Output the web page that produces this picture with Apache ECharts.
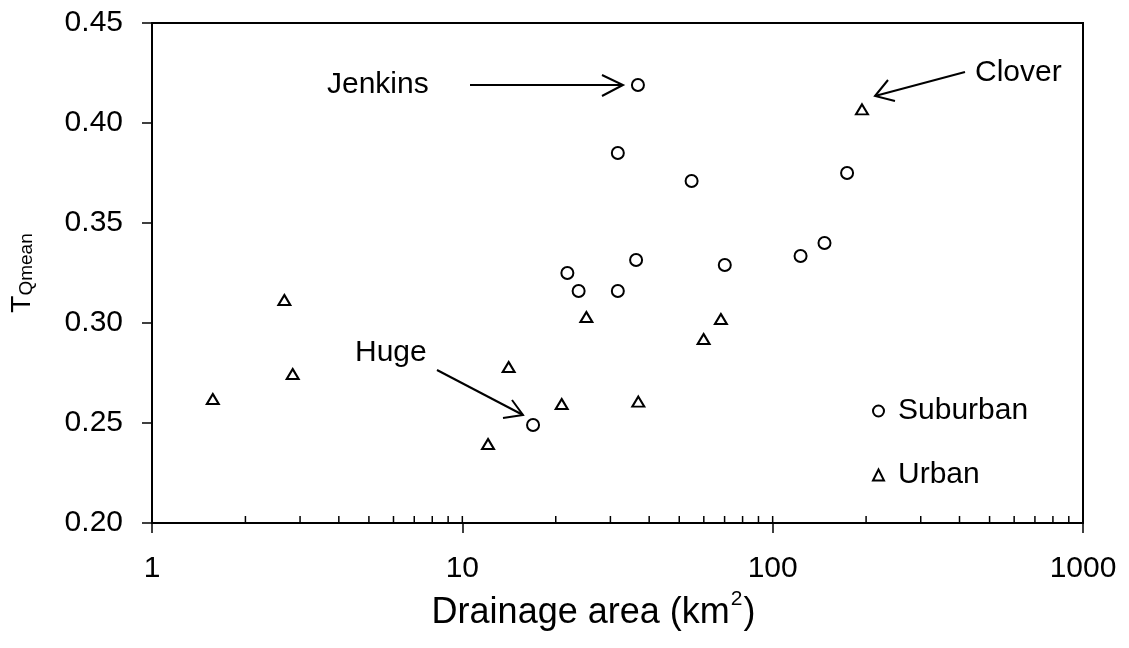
<!DOCTYPE html>
<html>
<head>
<meta charset="utf-8">
<script src="https://cdn.jsdelivr.net/npm/echarts@6/dist/echarts.min.js"></script>
<style>
html,body{margin:0;padding:0;background:#fff;}
#chart{width:1129px;height:648px;}
</style>
</head>
<body>
<div id="chart"></div>
<script>
// ---- data ----
var suburbanArea = [36.8, 31.7, 54.8, 173.7, 146.9, 123, 21.8, 23.7, 31.7, 36.3, 70.1, 16.9];
var suburbanT    = [0.419, 0.385, 0.371, 0.375, 0.340, 0.3335, 0.325, 0.316, 0.316, 0.3315, 0.329, 0.249];
var urbanArea = [1.57, 2.67, 2.84, 14.1, 12.1, 25.1, 68.1, 59.9, 36.9, 194, 20.9];
var urbanT    = [0.262, 0.3115, 0.2745, 0.278, 0.2395, 0.303, 0.302, 0.292, 0.2607, 0.4068, 0.2595];
var yTicks = [0.20, 0.25, 0.30, 0.35, 0.40, 0.45];
var xTickLabels = ['1', '10', '100', '1000'];
var minorTickValues = [2,3,4,5,6,7,8,9,10,20,30,40,50,60,70,80,90,100,200,300,400,500,600,700,800,900];

function pairs(xs, ys){ return xs.map(function(x,i){ return [x, ys[i]]; }); }

var FONT = 'Liberation Sans, Arial, sans-serif';
var chart = echarts.init(document.getElementById('chart'), null, {renderer:'canvas'});

var option = {
  backgroundColor: '#fff',
  animation: false,
  textStyle: {fontFamily: FONT, color: '#000'},
  grid: {left: 149, right: 46, top: 23, bottom: 125, show: true, borderColor: '#000', borderWidth: 2, backgroundColor: 'transparent'},
  legend: {
    orient: 'vertical', left: 867, top: 391, itemGap: 34,
    itemWidth: 11, itemHeight: 11,
    textStyle: {fontSize: 30, lineHeight: 30, fontFamily: FONT, color: '#000', padding: [0,0,0,9]},
    data: [{name: 'Suburban', icon: 'circle'}, {name: 'Urban', icon: 'triangle'}]
  },
  xAxis: {
    type: 'log', logBase: 10, min: 1, max: 1000,
    name: '{a|Drainage area (km}{s|2}{a|)}',
    nameLocation: 'middle', nameGap: 62,
    nameTextStyle: {
      padding: [0, 48, 0, 0],
      rich: {
        a: {fontSize: 36, fontFamily: FONT, color: '#000', lineHeight: 42, verticalAlign: 'bottom'},
        s: {fontSize: 21, fontFamily: FONT, color: '#000', lineHeight: 42, verticalAlign: 'top', padding: [0,1,0,1]}
      }
    },
    axisLine: {lineStyle: {color: '#000', width: 2}},
    axisTick: {show: true, inside: false, length: 10, lineStyle: {color: '#000', width: 1.5}},
    axisLabel: {fontSize: 30, color: '#000', fontFamily: FONT, margin: 31,
      formatter: function(v){ var s = String(Math.round(v)); return xTickLabels.indexOf(s) >= 0 ? s : ''; }},
    splitLine: {show: false},
    minorTick: {show: false}
  },
  yAxis: {
    type: 'value', min: 0.20, max: 0.45, interval: 0.05,
    name: '{t|T}{q|Qmean}',
    nameLocation: 'middle', nameGap: 116, nameRotate: 90,
    nameTextStyle: {
      rich: {
        t: {fontSize: 28, fontFamily: FONT, color: '#000', lineHeight: 30, verticalAlign: 'bottom'},
        q: {fontSize: 19, fontFamily: FONT, color: '#000', lineHeight: 30, verticalAlign: 'bottom'}
      }
    },
    axisLine: {show: true, lineStyle: {color: '#000', width: 2}},
    axisTick: {show: true, inside: false, length: 10, lineStyle: {color: '#000', width: 1.5}},
    axisLabel: {fontSize: 30, color: '#000', fontFamily: FONT, margin: 29,
      formatter: function(v){ return v.toFixed(2); }},
    splitLine: {show: false}
  },
  series: [
    {
      name: 'Suburban', type: 'scatter', symbol: 'circle', symbolSize: 12,
      data: pairs(suburbanArea, suburbanT),
      itemStyle: {color: '#fff', borderColor: '#000', borderWidth: 2, opacity: 1},
      z: 3
    },
    {
      name: 'Urban', type: 'scatter', symbol: 'triangle', symbolSize: [12, 10],
      data: pairs(urbanArea, urbanT),
      itemStyle: {color: '#fff', borderColor: '#000', borderWidth: 2, opacity: 1},
      z: 3
    },
    {
      name: 'minorTicks', type: 'custom', silent: true, z: 2,
      data: minorTickValues.map(function(v){ return [v, yTicks[0]]; }),
      renderItem: function(params, api){
        var p = api.coord([api.value(0), api.value(1)]);
        return {type: 'line', shape: {x1: p[0], y1: p[1], x2: p[0], y2: p[1] - 7},
                style: {stroke: '#000', lineWidth: 1.5}};
      }
    }
  ],
  graphic: [
    // Jenkins
    {type: 'text', left: 327, top: 70, style: {text: 'Jenkins', font: '30px ' + FONT, fill: '#000'}},
    {type: 'line', shape: {x1: 470, y1: 85, x2: 623, y2: 85}, style: {stroke: '#000', lineWidth: 2}},
    {type: 'polyline', shape: {points: [[602,75],[623,85],[602,96]]}, style: {stroke: '#000', lineWidth: 2, fill: null}},
    // Clover
    {type: 'text', left: 975, top: 58, style: {text: 'Clover', font: '30px ' + FONT, fill: '#000'}},
    {type: 'line', shape: {x1: 965, y1: 72, x2: 875, y2: 96}, style: {stroke: '#000', lineWidth: 2}},
    {type: 'polyline', shape: {points: [[888,80],[875,96],[895,101]]}, style: {stroke: '#000', lineWidth: 2, fill: null}},
    // Huge
    {type: 'text', left: 355, top: 338, style: {text: 'Huge', font: '30px ' + FONT, fill: '#000'}},
    {type: 'line', shape: {x1: 437, y1: 370, x2: 523, y2: 415}, style: {stroke: '#000', lineWidth: 2}},
    {type: 'polyline', shape: {points: [[512,400],[523,415],[503,418]]}, style: {stroke: '#000', lineWidth: 2, fill: null}}
  ]
};
chart.setOption(option);
</script>
</body>
</html>
